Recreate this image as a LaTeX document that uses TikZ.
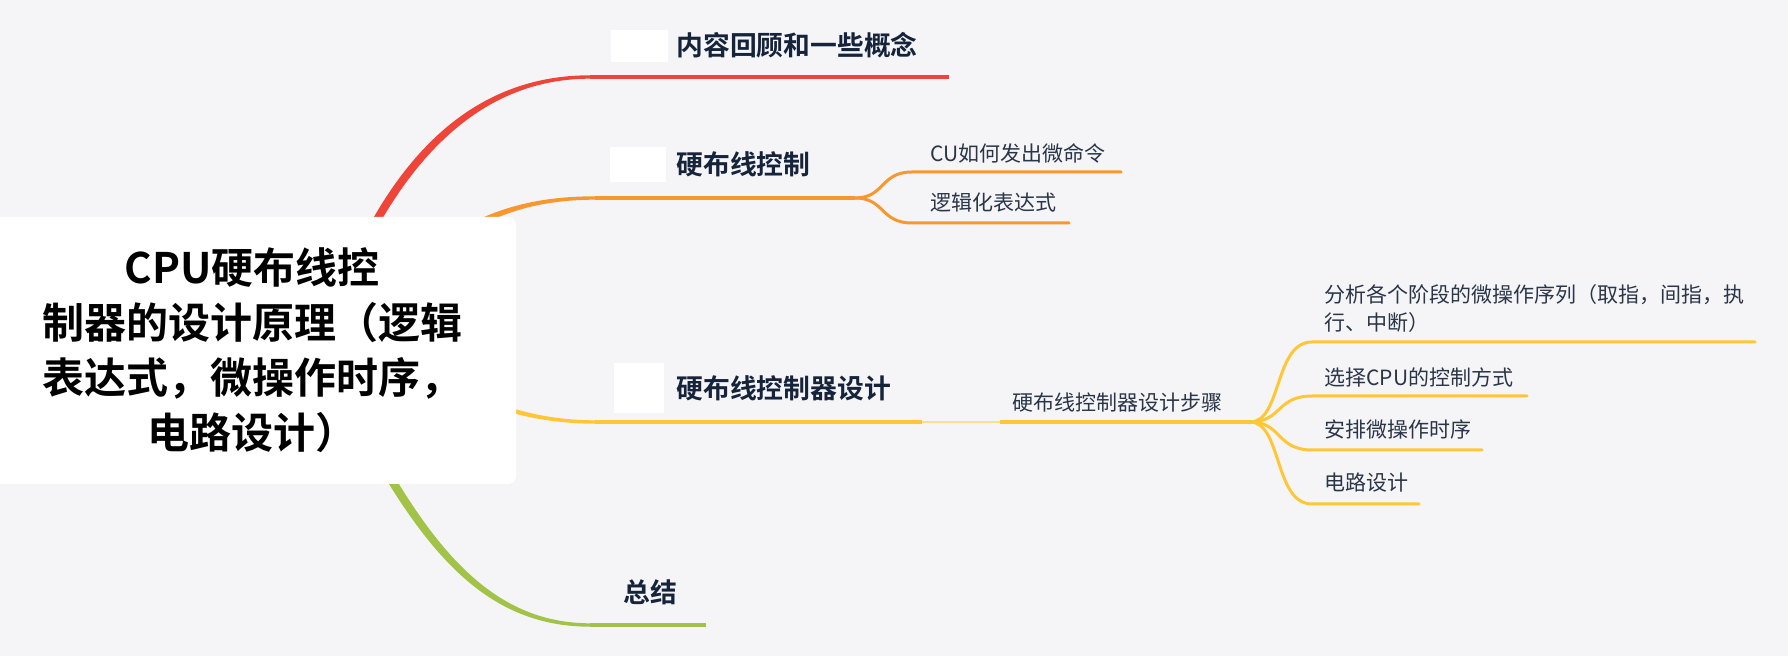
\documentclass[tikz,border=0pt]{standalone}
\usepackage{fontspec}
\setmainfont{Noto Sans CJK SC}[BoldFont={* Bold}]
\usetikzlibrary{calc}

\definecolor{bgcol}{HTML}{F5F5F8}
\definecolor{redbr}{HTML}{EF4438}
\definecolor{orangebr}{HTML}{F7972E}
\definecolor{yellowbr}{HTML}{FFC735}
\definecolor{palebr}{HTML}{FFE08A}
\definecolor{greenbr}{HTML}{A2C348}
\definecolor{topictext}{HTML}{16243B}
\definecolor{subtext}{HTML}{2A3547}

% tapered main branch: colour, from, control 1, control 2, to, half width at start
\newcommand{\taper}[6]{%
  \fill[#1] ($(#2)+(0,-#6)$) .. controls ($(#3)+(0,-#6)$) and ($(#4)+(0,-1.7)$) .. ($(#5)+(0,-1.7)$)
    -- ($(#5)+(0,1.7)$) .. controls ($(#4)+(0,1.7)$) and ($(#3)+(0,#6)$) .. ($(#2)+(0,#6)$) -- cycle;}

\begin{document}
\begin{tikzpicture}[x=0.5pt, y=-0.5pt,
    rootbox/.style={fill=white, rounded corners=4pt, minimum width=264pt,
                    minimum height=133.5pt, inner sep=0, align=center,
                    font=\fontsize{21}{27.5}\selectfont\bfseries},
    topic/.style={anchor=west, inner sep=0, text=topictext,
                  font=\fontsize{13.4}{16}\selectfont\bfseries},
    subtopic/.style={anchor=west, inner sep=0, text=subtext, align=left,
                     font=\fontsize{10.5}{14}\selectfont},
    icon/.style={fill=white, inner sep=0},
    mainline/.style={line width=1.7pt},
    subline/.style={line width=1.5pt, line cap=round}
]
    \useasboundingbox (0,0) rectangle (1788,656);
    \fill[bgcol] (0,0) rectangle (1788,656);

    % branch ends
    \coordinate (hub) at (320,351);
    \coordinate (reviewL) at (590,77);   \coordinate (reviewR) at (949,77);
    \coordinate (hwL) at (595,198);      \coordinate (hwS) at (855,198);
    \coordinate (designL) at (595,422);  \coordinate (designM) at (922,422);
    \coordinate (designN) at (1000,422); \coordinate (designS) at (1250,422);
    \coordinate (sumL) at (590,625);     \coordinate (sumR) at (706,625);

    % main branches
    \taper{redbr}{hub}{370,200}{450,77}{reviewL}{10}
    \taper{orangebr}{hub}{420,260}{470,198}{hwL}{7}
    \taper{yellowbr}{hub}{420,351}{470,422}{designL}{6}
    \taper{greenbr}{hub}{400,500}{460,625}{sumL}{10}

    \draw[redbr, mainline] (reviewL) -- (reviewR);
    \draw[orangebr, mainline] (hwL) -- (hwS);
    \draw[yellowbr, mainline] (designL) -- (designM);
    \draw[palebr, line width=1pt] (designM) -- (designN);
    \draw[yellowbr, mainline] (designN) -- (designS);
    \draw[greenbr, mainline] (sumL) -- (sumR);

    % root
    \node[rootbox] (root) at (252,350.5)
        {CPU硬布线控\\制器的设计原理（逻辑\\表达式，微操作时序，\\电路设计）};

    % topics
    \node[icon, minimum width=28.5pt, minimum height=16pt] (reviewIcon) at (639.5,46) {};
    \node[topic] (review) at (676,45) {内容回顾和一些概念};
    \node[icon, minimum width=28pt, minimum height=17.5pt] (hwIcon) at (638,164.5) {};
    \node[topic] (hw) at (676,164) {硬布线控制};
    \node[icon, minimum width=25pt, minimum height=25pt] (designIcon) at (639,388) {};
    \node[topic] (design) at (676,388) {硬布线控制器设计};
    \node[topic] (summary) at (623,592) {总结};

    % 硬布线控制
    \node[subtopic] (cuCmd) at (930,153) {CU如何发出微命令};
    \node[subtopic] (logicExpr) at (930,203) {逻辑化表达式};
    \draw[orangebr, subline] (hwS) .. controls (885,198) and (880,172) .. (912,172) -- (1121,172);
    \draw[orangebr, subline] (hwS) .. controls (885,198) and (880,223) .. (912,223) -- (1069,223);

    % 硬布线控制器设计
    \node[subtopic] (designSteps) at (1012,403) {硬布线控制器设计步骤};
    \node[subtopic] (stepAnalyse) at (1324,309)
        {分析各个阶段的微操作序列（取指，间指，执\\行、中断）};
    \node[subtopic] (stepMode) at (1324,377) {选择CPU的控制方式};
    \node[subtopic] (stepTiming) at (1324,430) {安排微操作时序};
    \node[subtopic] (stepCircuit) at (1324,483) {电路设计};

    \draw[yellowbr, subline] (designS) .. controls (1282,422) and (1274,342) .. (1312,342) -- (1755,342);
    \draw[yellowbr, subline] (designS) .. controls (1282,422) and (1276,396) .. (1312,396) -- (1527,396);
    \draw[yellowbr, subline] (designS) .. controls (1282,422) and (1276,450) .. (1312,450) -- (1482,450);
    \draw[yellowbr, subline] (designS) .. controls (1282,422) and (1274,504) .. (1312,504) -- (1419,504);
\end{tikzpicture}
\end{document}
